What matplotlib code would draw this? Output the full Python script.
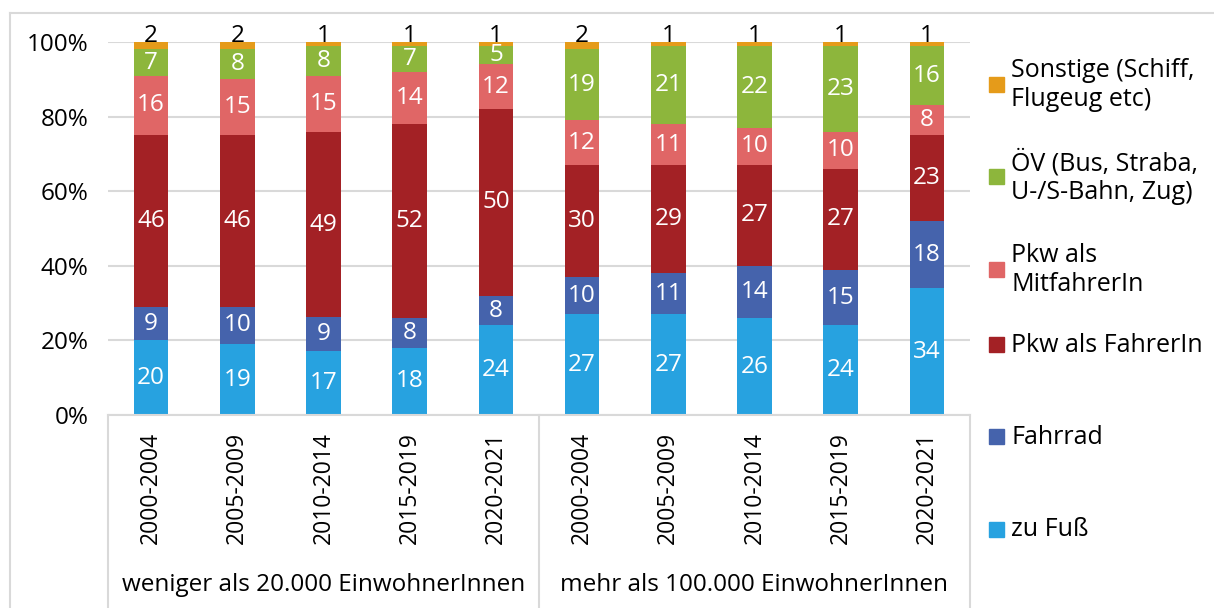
import numpy as np
import matplotlib.pyplot as plt
from matplotlib.patches import Rectangle
from matplotlib.lines import Line2D

plt.rcParams['font.family'] = ['Open Sans', 'DejaVu Sans']

# Data (percent shares, bottom to top)
periods = ['2000-2004', '2005-2009', '2010-2014', '2015-2019', '2020-2021'] * 2
groups = ['weniger als 20.000 EinwohnerInnen', 'mehr als 100.000 EinwohnerInnen']

zu_fuss = [20, 19, 17, 18, 24, 27, 27, 26, 24, 34]
fahrrad = [9, 10, 9, 8, 8, 10, 11, 14, 15, 18]
pkw_fahrer = [46, 46, 49, 52, 50, 30, 29, 27, 27, 23]
pkw_mitfahrer = [16, 15, 15, 14, 12, 12, 11, 10, 10, 8]
oev = [7, 8, 8, 7, 5, 19, 21, 22, 23, 16]
sonstige = [2, 2, 1, 1, 1, 2, 1, 1, 1, 1]

series = [
    ('zu Fuß', zu_fuss, '#27A2E0'),
    ('Fahrrad', fahrrad, '#4563AC'),
    ('Pkw als FahrerIn', pkw_fahrer, '#A32125'),
    ('Pkw als\nMitfahrerIn', pkw_mitfahrer, '#E06666'),
    ('ÖV (Bus, Straba,\nU-/S-Bahn, Zug)', oev, '#8DB63C'),
    ('Sonstige (Schiff,\nFlugeug etc)', sonstige, '#E59B1A'),
]

W, H = 1214, 608
fig = plt.figure(figsize=(W / 100, H / 100), dpi=100)
ax = fig.add_axes([108 / W, 1 - 415 / H, 862 / W, 373 / H])

fs = 17.5
x = np.arange(len(periods))
totals = np.sum([s[1] for s in series], axis=0)
bottom = np.zeros(len(x))
for name, vals, col in series:
    share = np.array(vals) / totals * 100
    ax.bar(x, share, 0.4, bottom=bottom, color=col, zorder=2)
    for xi, b, h, v in zip(x, bottom, share, vals):
        if name.startswith('Sonstige'):
            ax.text(xi, 99.9, str(v), ha='center', va='baseline',
                    fontsize=fs, color='black', zorder=3)
        else:
            ax.text(xi, b + h / 2, str(v), ha='center', va='center',
                    fontsize=fs, color='white', zorder=3)
    bottom += share

ax.set_xlim(-0.5, len(x) - 0.5)
ax.set_ylim(0, 100)
ax.set_yticks(range(0, 101, 20))
ax.set_yticklabels([f'{v}%' for v in range(0, 101, 20)], fontsize=fs)
ax.yaxis.grid(True, color='#D9D9D9', linewidth=1.5, zorder=0)
ax.set_axisbelow(True)
ax.set_xticks(x)
ax.set_xticklabels(periods, rotation=90, fontsize=16.5, va='top')
ax.tick_params(length=0)
ax.tick_params(axis='y', pad=14)
ax.tick_params(axis='x', pad=12)
for sp in ['top', 'right', 'left']:
    ax.spines[sp].set_visible(False)
ax.spines['bottom'].set_color('#D9D9D9')
ax.spines['bottom'].set_linewidth(1.5)

# group separators and labels
trans = ax.get_xaxis_transform()
for xs in [-0.5, 4.5, 9.5]:
    ax.add_line(Line2D([xs, xs], [0, -0.6], transform=trans, color='#D9D9D9',
                       linewidth=1.5, clip_on=False))
for i, g in enumerate(groups):
    ax.text(2 + 5 * i, -0.456, g, transform=trans, ha='center', va='center',
            fontsize=fs)

# legend (top to bottom)
leg_y = [85, 177, 270, 345, 437, 530]
for (name, vals, col), yy in zip(series[::-1], leg_y):
    fig.patches.append(Rectangle((989 / W, 1 - (yy + 7) / H), 15 / W, 15 / H,
                                 transform=fig.transFigure, color=col))
    fig.text(1011 / W, 1 - yy / H, name, ha='left', va='center', fontsize=18,
             linespacing=1.2)

# outer chart border
fig.add_artist(Line2D([10 / W, 1], [1 - 13 / H, 1 - 13 / H], color='#D9D9D9',
                      linewidth=1.5, transform=fig.transFigure))
fig.add_artist(Line2D([10 / W, 10 / W], [0, 1 - 13 / H], color='#D9D9D9',
                      linewidth=1.5, transform=fig.transFigure))

fig.savefig('out.png', dpi=100)
